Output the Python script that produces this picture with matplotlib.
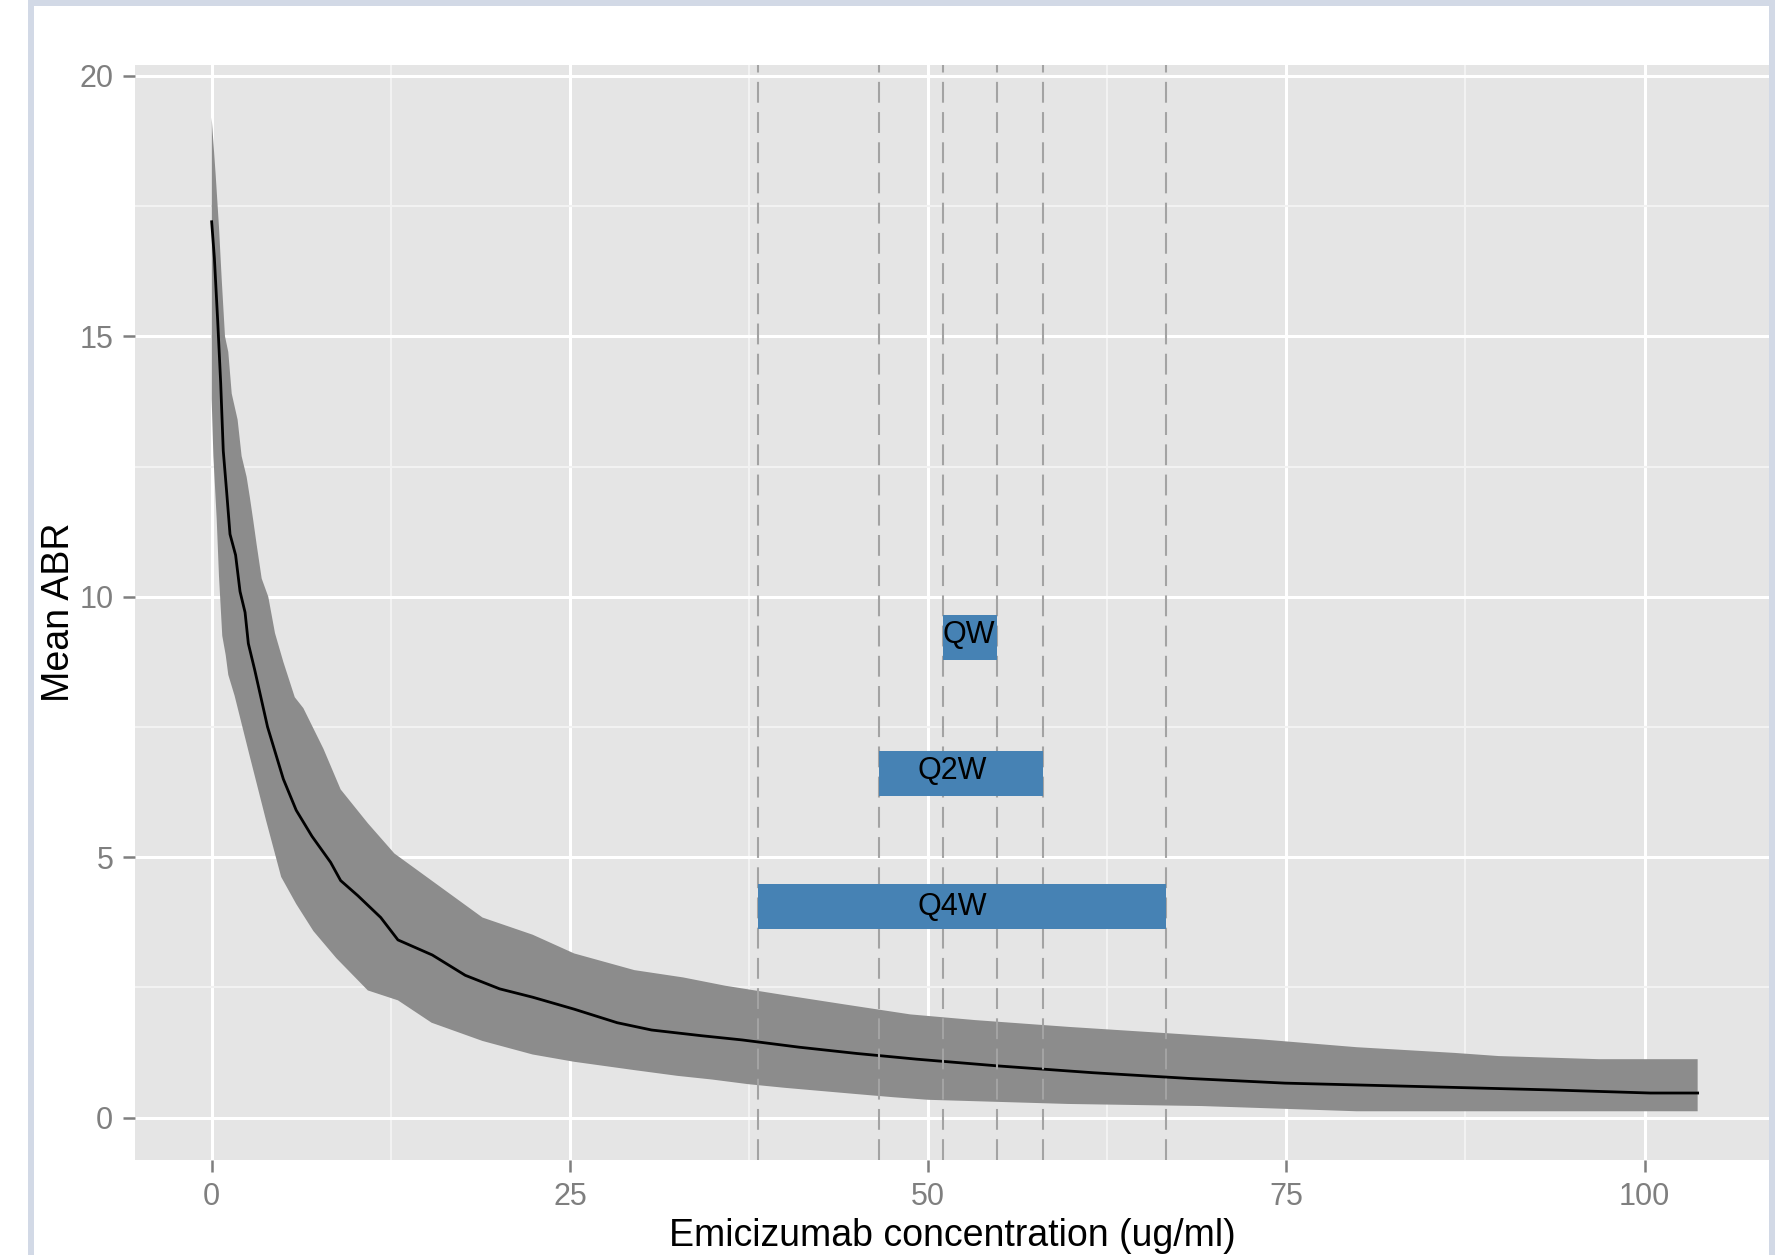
import numpy as np
import matplotlib
matplotlib.use('Agg')
import matplotlib.pyplot as plt
from matplotlib.patches import Rectangle
from matplotlib.ticker import MultipleLocator

# ---- data ----
mean_x = [0, 0.19, 0.42, 0.63, 0.81, 1.05, 1.28, 1.67, 1.98, 2.33, 2.56, 3.0, 3.9, 5.0,
          5.9, 7.0, 8.3, 9.0, 10.2, 11.8, 13.0, 15.4, 17.7, 20.1, 22.4, 25.3, 28.3, 30.7,
          34.2, 37.0, 41.0, 45.0, 49.2, 54.9, 61.5, 68.2, 74.9, 85.0, 93.4, 100.4, 103.7]
mean_y = [17.2, 16.5, 15.3, 14.1, 12.8, 12.0, 11.2, 10.8, 10.1, 9.7, 9.1, 8.6, 7.5, 6.5,
          5.9, 5.4, 4.9, 4.55, 4.26, 3.84, 3.41, 3.12, 2.73, 2.47, 2.31, 2.08, 1.82, 1.68,
          1.57, 1.49, 1.35, 1.23, 1.12, 0.99, 0.86, 0.75, 0.66, 0.59, 0.53, 0.47, 0.47]

upper_x = [0, 0.28, 0.51, 0.70, 0.93, 1.16, 1.40, 1.81, 2.09, 2.44, 2.67, 2.91, 3.14, 3.49,
           3.95, 4.42, 5.0, 5.8, 6.4, 7.8, 9.0, 10.9, 12.75, 15.35, 18.9, 22.4, 25.3, 29.5,
           32.9, 35.85, 39.97, 44.2, 48.75, 53.3, 59.8, 66.6, 73.25, 79.9, 86.75, 89.8,
           96.8, 103.7]
upper_y = [19.2, 18.1, 17.1, 16.1, 15.0, 14.7, 13.9, 13.4, 12.7, 12.3, 11.9, 11.45, 11.0,
           10.35, 10.0, 9.3, 8.75, 8.07, 7.86, 7.08, 6.3, 5.65, 5.07, 4.55, 3.84, 3.51, 3.15,
           2.83, 2.69, 2.53, 2.35, 2.17, 1.98, 1.87, 1.74, 1.62, 1.50, 1.35, 1.24, 1.18,
           1.12, 1.12]

lower_x = [0, 0.12, 0.35, 0.51, 0.74, 0.98, 1.16, 1.6, 2.6, 3.8, 4.85, 5.9, 7.1, 8.7, 10.9,
           13.0, 15.35, 18.9, 22.4, 25.3, 29.5, 32.5, 34.9, 37.45, 40.0, 42.5, 45.0, 47.55,
           50.0, 59.8, 69.1, 79.9, 103.7]
lower_y = [13.8, 12.7, 11.5, 10.4, 9.25, 8.88, 8.5, 8.1, 7.0, 5.7, 4.62, 4.1, 3.58, 3.06,
           2.44, 2.25, 1.82, 1.47, 1.21, 1.07, 0.91, 0.8, 0.73, 0.64, 0.57, 0.51, 0.45,
           0.39, 0.34, 0.26, 0.22, 0.12, 0.12]

regimens = ['QW', 'Q2W', 'Q4W']
bar_lo = [51.05, 46.6, 38.15]
bar_hi = [54.82, 58.0, 66.6]
bar_ymin = [8.79, 6.17, 3.62]
bar_ymax = [9.64, 7.03, 4.48]
label_x = [52.85, 51.7, 51.7]
label_y = [9.27, 6.65, 4.04]

ref_lines = [38.15, 46.6, 51.05, 54.82, 58.0, 66.6]

x_ticks = [0, 25, 50, 75, 100]
y_ticks = [0, 5, 10, 15, 20]
x_title = 'Emicizumab concentration (ug/ml)'
y_title = 'Mean ABR'

# ---- figure ----
plt.rcParams['font.family'] = ['Liberation Sans', 'DejaVu Sans']
W, H = 1780, 1255
fig = plt.figure(figsize=(W / 100, H / 100), dpi=100)
fig.patch.set_facecolor('white')

ax = fig.add_axes([135 / W, (H - 1160) / H, (1769 - 135) / W, (1160 - 65) / H])
ax.set_facecolor('#e5e5e5')
ax.set_xlim(-5.35, 108.68)
ax.set_ylim(-0.816, 20.21)
for s in ax.spines.values():
    s.set_visible(False)

ax.set_xticks(x_ticks)
ax.set_yticks(y_ticks)
ax.set_xticklabels([str(t) for t in x_ticks])
ax.set_yticklabels([str(t) for t in y_ticks])
ax.xaxis.set_minor_locator(MultipleLocator(12.5))
ax.yaxis.set_minor_locator(MultipleLocator(2.5))
ax.grid(which='major', color='white', lw=2.2, zorder=0)
ax.grid(which='minor', color='#f2f2f2', lw=1.5, zorder=0)
ax.set_axisbelow(True)
ax.tick_params(which='major', length=8.6, width=1.8, color='#7f7f7f',
               labelcolor='#7f7f7f', labelsize=22, pad=7)
ax.tick_params(which='minor', length=0)

# ribbon
ax.fill(np.r_[upper_x, lower_x[::-1]], np.r_[upper_y, lower_y[::-1]],
        color='#8c8c8c', lw=0, zorder=2)
# mean line
ax.plot(mean_x, mean_y, color='black', lw=2.0, zorder=3)
# dashed reference lines
for xv in ref_lines:
    ax.axvline(xv, color='#a3a3a3', lw=1.5, ls=(0, (10, 4.5)), zorder=4)
# regimen bars
lo = np.array(bar_lo); hi = np.array(bar_hi)
ymn = np.array(bar_ymin); ymx = np.array(bar_ymax)
ax.barh(ymn, hi - lo, left=lo, height=ymx - ymn, align='edge',
        color='#4682b4', lw=0, zorder=5)
for name, lx, ly in zip(regimens, label_x, label_y):
    ax.text(lx, ly, name, ha='center', va='center', fontsize=22, color='black', zorder=6)

# axis titles
fig.text(952 / W, (H - 1246) / H, x_title, ha='center', va='baseline', fontsize=27,
         color='black')
fig.text(59 / W, (H - 612.5) / H, y_title, ha='center', va='center', rotation=90,
         fontsize=27, color='black')

# outer frame border
bc = '#d2d9e6'
fig.add_artist(Rectangle((28 / W, 0), 6 / W, 1, transform=fig.transFigure,
                         color=bc, lw=0, zorder=10))
fig.add_artist(Rectangle((28 / W, (H - 6) / H), (1775 - 28) / W, 6 / H,
                         transform=fig.transFigure, color=bc, lw=0, zorder=10))
fig.add_artist(Rectangle((1769 / W, 0), 6 / W, 1, transform=fig.transFigure,
                         color=bc, lw=0, zorder=10))

fig.savefig('out.png', dpi=100, facecolor='white')
